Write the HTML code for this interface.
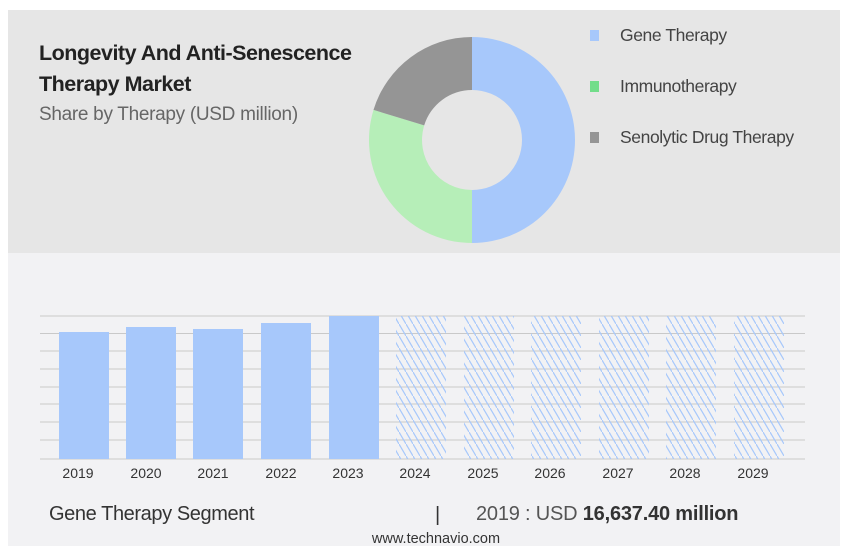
<!DOCTYPE html>
<html><head><style>
body{margin:0;width:849px;height:556px;background:#fff;position:relative;overflow:hidden;font-family:"Liberation Sans",sans-serif}
.top{position:absolute;left:8px;top:10px;width:832px;height:243px;background:#e6e6e6}
.bot{position:absolute;left:8px;top:253px;width:832px;height:293px;background:#f2f2f4}
.t{position:absolute;color:#222;white-space:nowrap}
</style></head><body>
<div class="top"></div><div class="bot"></div>
<div class="t" style="left:39px;top:38px;font-weight:bold;font-size:21.5px;line-height:31px;letter-spacing:-0.5px">Longevity And Anti-Senescence<br>Therapy Market</div>
<div class="t" style="left:39px;top:104px;font-size:19px;color:#666;letter-spacing:-0.3px">Share by Therapy (USD million)</div>
<svg style="position:absolute;left:0;top:0" width="849" height="556">
<path d="M472 37 A103 103 0 0 1 472 243 L472 190 A50 50 0 0 0 472 90 Z" fill="#a7c8fb"/>
<path d="M472 243 A103 103 0 0 1 373.5 109.9 L424.2 125.4 A50 50 0 0 0 472 190 Z" fill="#b6eeb8"/>
<path d="M373.5 109.9 A103 103 0 0 1 472 37 L472 90 A50 50 0 0 0 424.2 125.4 Z" fill="#959595"/>
<rect x="590" y="30" width="9" height="11" fill="#a7c8fb"/>
<rect x="590" y="81" width="9" height="11" fill="#72dd8a"/>
<rect x="590" y="132" width="9" height="11" fill="#959595"/>
<g font-size="17.5" fill="#444" font-family="Liberation Sans,sans-serif" letter-spacing="-0.4">
<text x="620" y="41">Gene Therapy</text><text x="620" y="92">Immunotherapy</text><text x="620" y="143">Senolytic Drug Therapy</text></g>
<defs><pattern id="h" width="7" height="12" patternUnits="userSpaceOnUse"><line x1="-7" y1="-12" x2="14" y2="24" stroke="#a7c8fb" stroke-width="1.2"/></pattern></defs>
<g stroke="#c9c9c9" stroke-width="1">
<line x1="40" x2="805" y1="316" y2="316"/><line x1="40" x2="805" y1="333.5" y2="333.5"/><line x1="40" x2="805" y1="351" y2="351"/><line x1="40" x2="805" y1="369" y2="369"/><line x1="40" x2="805" y1="387" y2="387"/><line x1="40" x2="805" y1="404" y2="404"/><line x1="40" x2="805" y1="422" y2="422"/><line x1="40" x2="805" y1="440" y2="440"/><line x1="40" x2="805" y1="459" y2="459"/></g>
<g fill="#a7c8fb"><rect x="59" y="332" width="50" height="127"/><rect x="126" y="327" width="50" height="132"/><rect x="193" y="329" width="50" height="130"/><rect x="261" y="323" width="50" height="136"/><rect x="329" y="316" width="50" height="143"/></g>
<g fill="url(#h)"><rect x="396" y="316" width="50" height="143"/><rect x="464" y="316" width="50" height="143"/><rect x="531" y="316" width="50" height="143"/><rect x="599" y="316" width="50" height="143"/><rect x="666" y="316" width="50" height="143"/><rect x="734" y="316" width="50" height="143"/></g>
<g font-size="14" fill="#333" text-anchor="middle" font-family="Liberation Sans,sans-serif">
<text x="78" y="478">2019</text><text x="146" y="478">2020</text><text x="213" y="478">2021</text><text x="281" y="478">2022</text><text x="348" y="478">2023</text><text x="415" y="478">2024</text><text x="483" y="478">2025</text><text x="550" y="478">2026</text><text x="618" y="478">2027</text><text x="685" y="478">2028</text><text x="753" y="478">2029</text></g>
<g font-family="Liberation Sans,sans-serif" fill="#333">
<text x="49" y="520" font-size="20" letter-spacing="-0.4">Gene Therapy Segment</text>
<text x="435" y="521" font-size="20">|</text>
<text x="476" y="520" font-size="20" fill="#555" letter-spacing="-0.2">2019 : USD <tspan font-weight="bold" fill="#333">16,637.40 million</tspan></text>
<text x="436" y="543" font-size="14.5" text-anchor="middle">www.technavio.com</text></g>
</svg>
</body></html>
